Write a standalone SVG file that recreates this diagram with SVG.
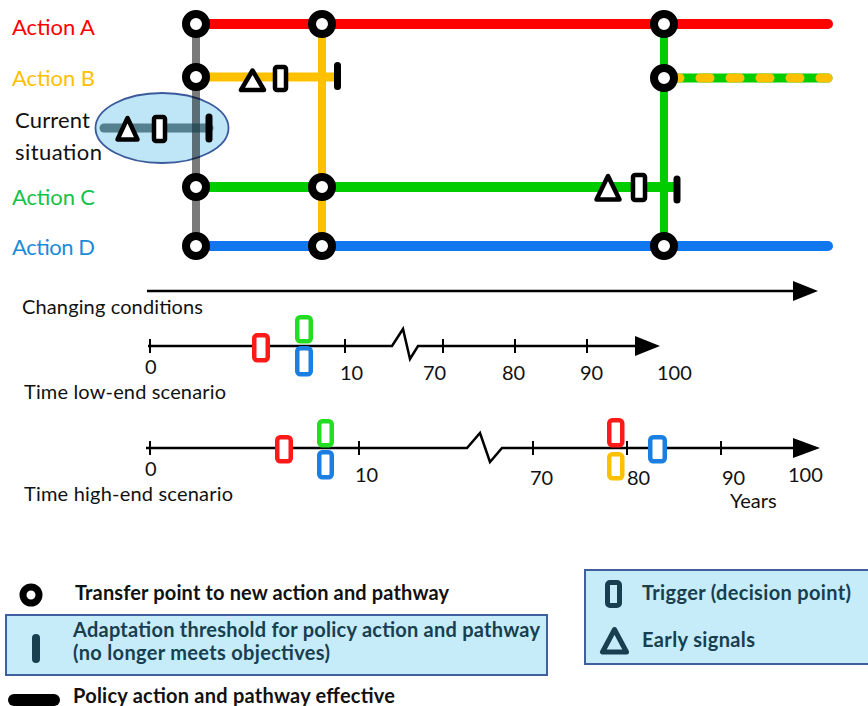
<svg xmlns="http://www.w3.org/2000/svg" width="868" height="706" viewBox="0 0 868 706">
<style>
text{font-family:Lato,"Liberation Sans",sans-serif}
.lbl{font-size:22px}
.ax{font-size:20px;fill:#111}
.lg{font-size:20px;font-weight:bold;fill:#111}
.lgb{font-size:20px;font-weight:bold;fill:#173f4f}
.ring{fill:#fff;stroke:#000;stroke-width:8}
.sym{fill:#fff;stroke:#000;stroke-width:4.5;stroke-linejoin:round}
.tick{stroke:#000;stroke-width:7;stroke-linecap:round}
.ax-l{stroke:#000;stroke-width:2.5;fill:none}
.tk{stroke:#000;stroke-width:2}
.trg{fill:#fff;stroke-width:4.5}
.box{fill:#c6ebf9;stroke:#3f5f9f;stroke-width:2}
</style>
<g id="labels">
<text class="lbl" x="12" y="35" fill="#ff0000" textLength="83">Action A</text>
<text class="lbl" x="12" y="86" fill="#ffc000" textLength="83">Action B</text>
<text class="lbl" x="15" y="128" fill="#111" textLength="75">Current</text>
<text class="lbl" x="15" y="160" fill="#111" textLength="87">situation</text>
<text class="lbl" x="12" y="205" fill="#14c24a" textLength="83">Action C</text>
<text class="lbl" x="12" y="255" fill="#1a8cd8" textLength="83">Action D</text>
</g>
<g id="current-situation">
<ellipse cx="162" cy="128" rx="66.5" ry="35" fill="#bfe6f6" stroke="#3a5a9c" stroke-width="1.8"/>
</g>
<g id="connectors">
<line x1="196" y1="24" x2="196" y2="246" stroke="#000" stroke-opacity="0.52" stroke-width="8"/>
<line x1="322" y1="24" x2="322" y2="246" stroke="#ffc000" stroke-width="8"/>
<line x1="664" y1="24" x2="664" y2="246" stroke="#00cc00" stroke-width="8"/>
<line x1="196" y1="24" x2="828" y2="24" stroke="#ff0000" stroke-width="10" stroke-linecap="round"/>
<line x1="196" y1="77" x2="337" y2="77" stroke="#ffc000" stroke-width="9"/>
<line x1="664" y1="78" x2="828" y2="78" stroke="#00cc00" stroke-width="9" stroke-linecap="round"/>
<line x1="666" y1="78" x2="828" y2="78" stroke="#ffc000" stroke-width="9" stroke-linecap="round" stroke-dasharray="10 20" stroke-dashoffset="-4"/>
<line x1="196" y1="187" x2="677" y2="187" stroke="#00cc00" stroke-width="10"/>
<line x1="196" y1="246" x2="828" y2="246" stroke="#1177ee" stroke-width="10" stroke-linecap="round"/>
<line x1="104" y1="128" x2="209" y2="128" stroke="#0e3a4a" stroke-opacity="0.6" stroke-width="9" stroke-linecap="round"/>
</g>
<g id="markers">
<path class="sym" d="M252.5 70.5 L241 90 L264 90 Z"/>
<rect class="sym" x="275" y="67" width="11" height="23" rx="2"/>
<line class="tick" x1="337.5" y1="65.5" x2="337.5" y2="86.5"/>
<path class="sym" d="M127.5 118 L117.5 139.5 L137.5 139.5 Z" fill="#bfe6f6" stroke="#173f4f"/>
<rect class="sym" x="154" y="117" width="11" height="24" rx="2" fill="#bfe6f6" stroke="#173f4f"/>
<line class="tick" x1="209" y1="117" x2="209" y2="139" stroke="#173f4f" stroke-width="8"/>
<path class="sym" d="M608 176 L596.5 199.5 L619.5 199.5 Z"/>
<rect class="sym" x="633" y="175" width="12" height="25" rx="2"/>
<line class="tick" x1="677" y1="179" x2="677" y2="200"/>
</g>
<g id="transfer-points">
<circle class="ring" cx="196" cy="24" r="10"/>
<circle class="ring" cx="322" cy="24" r="10"/>
<circle class="ring" cx="664" cy="24" r="10"/>
<circle class="ring" cx="196" cy="77" r="10"/>
<circle class="ring" cx="664" cy="78" r="10"/>
<circle class="ring" cx="196" cy="187" r="10"/>
<circle class="ring" cx="322" cy="187" r="10"/>
<circle class="ring" cx="196" cy="246" r="10"/>
<circle class="ring" cx="322" cy="246" r="10"/>
<circle class="ring" cx="664" cy="246" r="10"/>
</g>
<g id="changing-conditions">
<line x1="147" y1="291" x2="796" y2="291" stroke="#000" stroke-width="2.5"/>
<polygon points="793,281 818,291 793,301" fill="#000"/>
<text class="ax" x="22" y="314" textLength="181">Changing conditions</text>
</g>
<g id="low-end">
<polyline class="ax-l" points="148,346 392,346 403,329 410,359 418,346 637,346"/>
<polygon points="635,336 660,346 635,356" fill="#000"/>
<line class="tk" x1="150" y1="339" x2="150" y2="353"/>
<line class="tk" x1="345" y1="339" x2="345" y2="353"/>
<line class="tk" x1="443" y1="339" x2="443" y2="353"/>
<line class="tk" x1="515" y1="339" x2="515" y2="353"/>
<line class="tk" x1="587" y1="339" x2="587" y2="353"/>
<rect class="trg" x="254.25" y="335.25" width="13.5" height="25" rx="3" stroke="#ff1a1a"/>
<rect class="trg" x="297.25" y="317.25" width="13.5" height="24" rx="3" stroke="#22dd22"/>
<rect class="trg" x="297.25" y="348.25" width="13.5" height="26" rx="3" stroke="#1a7fe0"/>
<text class="ax" x="145" y="374">0</text>
<text class="ax" x="340" y="380">10</text>
<text class="ax" x="423" y="380">70</text>
<text class="ax" x="502" y="380">80</text>
<text class="ax" x="580" y="380">90</text>
<text class="ax" x="657" y="380">100</text>
<text class="ax" x="24" y="399" textLength="202">Time low-end scenario</text>
</g>
<g id="high-end">
<polyline class="ax-l" points="146,448 467,448 480,433 490,462 502,448 796,448"/>
<polygon points="793,438 820,448 793,458" fill="#000"/>
<line class="tk" x1="150" y1="441" x2="150" y2="455"/>
<line class="tk" x1="359" y1="441" x2="359" y2="455"/>
<line class="tk" x1="533" y1="441" x2="533" y2="455"/>
<line class="tk" x1="627" y1="441" x2="627" y2="455"/>
<line class="tk" x1="721" y1="441" x2="721" y2="455"/>
<rect class="trg" x="277.25" y="437.25" width="13.5" height="24" rx="3" stroke="#ff1a1a"/>
<rect class="trg" x="319.25" y="421.25" width="12.5" height="24" rx="3" stroke="#22dd22"/>
<rect class="trg" x="319.25" y="452.25" width="12.5" height="25" rx="3" stroke="#1a7fe0"/>
<rect class="trg" x="609.25" y="420.25" width="13" height="25" rx="3" stroke="#ff1a1a"/>
<rect class="trg" x="609.25" y="454.25" width="13" height="24" rx="3" stroke="#ffc000"/>
<rect class="trg" x="650.25" y="437.25" width="14.5" height="24" rx="3" stroke="#1a7fe0"/>
<text class="ax" x="145" y="476">0</text>
<text class="ax" x="355" y="482">10</text>
<text class="ax" x="530" y="485">70</text>
<text class="ax" x="627" y="485">80</text>
<text class="ax" x="722" y="485">90</text>
<text class="ax" x="788" y="482">100</text>
<text class="ax" x="730" y="508">Years</text>
<text class="ax" x="24" y="501" textLength="209">Time high-end scenario</text>
</g>
<g id="legend-transfer">
<circle cx="31" cy="595" r="8" fill="#fff" stroke="#000" stroke-width="7"/>
<text class="lg" x="75" y="600" textLength="374">Transfer point to new action and pathway</text>
</g>
<g id="legend-threshold">
<rect class="box" x="6" y="615" width="541" height="60"/>
<line x1="36" y1="638" x2="36" y2="659" stroke="#173f4f" stroke-width="8" stroke-linecap="round"/>
<text class="lgb" x="73" y="637" textLength="467">Adaptation threshold for policy action and pathway</text>
<text class="lgb" x="73" y="660" textLength="257">(no longer meets objectives)</text>
</g>
<g id="legend-effective">
<line x1="14" y1="700" x2="54" y2="700" stroke="#000" stroke-width="12" stroke-linecap="round"/>
<text class="lg" x="73" y="703" textLength="322">Policy action and pathway effective</text>
</g>
<g id="legend-trigger">
<rect class="box" x="585" y="570" width="290" height="94"/>
<rect x="607.5" y="582.5" width="12" height="23" rx="2.5" fill="#c6ebf9" stroke="#173f4f" stroke-width="5"/>
<text class="lgb" x="642" y="600" textLength="209">Trigger (decision point)</text>
<path d="M614.5 629.5 L602.5 652 L626.5 652 Z" fill="#c6ebf9" stroke="#173f4f" stroke-width="5" stroke-linejoin="round"/>
<text class="lgb" x="642" y="647" textLength="113">Early signals</text>
</g>
</svg>
